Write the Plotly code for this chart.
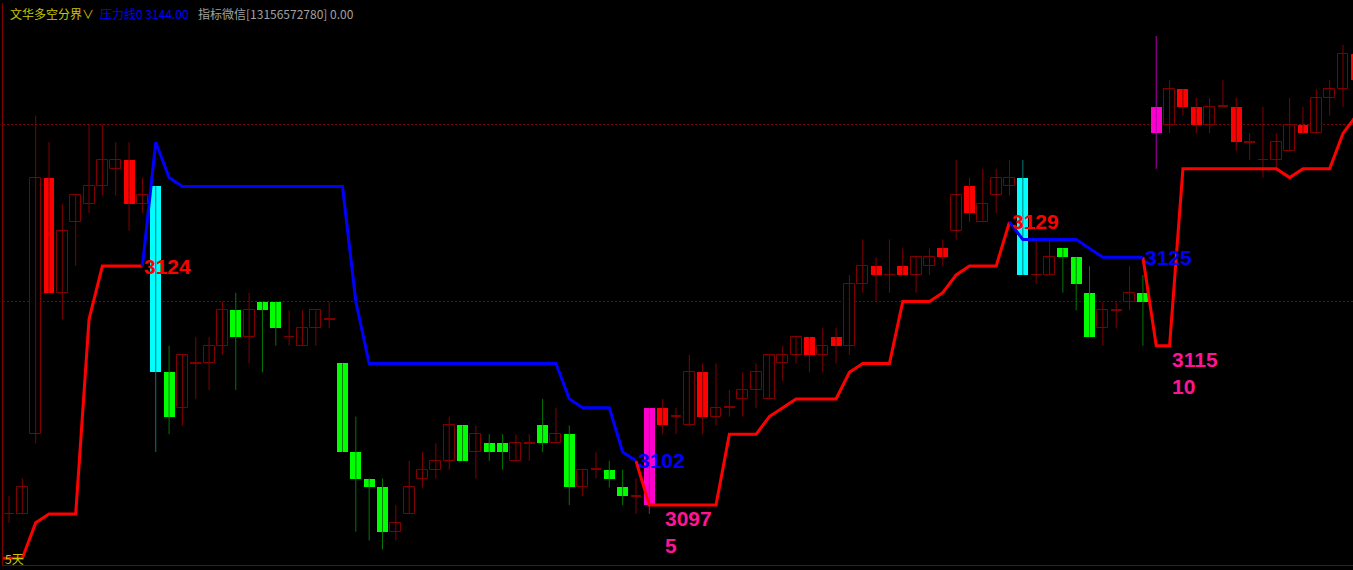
import plotly.graph_objects as go

# candle data, one entry per bar (index 0 .. 101)
candle_open = [3096, 3096, 3105, 3134, 3121, 3129, 3131, 3133, 3135, 3136,
               3131, 3133, 3112, 3108, 3113, 3113, 3115, 3119, 3116, 3120,
               3120, 3116, 3115, 3117, 3118, 3113, 3103, 3100, 3099, 3094,
               3096, 3100, 3101, 3102, 3106, 3103, 3104, 3104, 3102, 3104,
               3106, 3104, 3105, 3099, 3101, 3101, 3099, 3098, 3108, 3108,
               3107, 3106, 3112, 3107, 3108, 3109, 3110, 3109, 3113, 3114,
               3116, 3114, 3116, 3115, 3122, 3124, 3123, 3124, 3123, 3124,
               3126, 3128, 3133, 3129, 3132, 3133, 3134, 3123, 3123, 3126,
               3125, 3121, 3117, 3119, 3120, 3121, 3142, 3140, 3144, 3142,
               3140, 3142, 3142, 3138, 3136, 3136, 3137, 3140, 3139, 3143,
               3144, 3148]
candle_high = [3098, 3100, 3141, 3138, 3131, 3132, 3140, 3140, 3138, 3138,
               3134, 3133, 3115, 3114, 3116, 3116, 3120, 3121, 3121, 3120,
               3120, 3119, 3119, 3119, 3120, 3113, 3107, 3100, 3100, 3097,
               3102, 3103, 3104, 3107, 3106, 3106, 3105, 3105, 3105, 3105,
               3109, 3108, 3106, 3101, 3103, 3102, 3101, 3100, 3108, 3109,
               3108, 3114, 3113, 3113, 3110, 3112, 3113, 3114, 3115, 3116,
               3116, 3117, 3117, 3123, 3127, 3125, 3127, 3126, 3125, 3126,
               3127, 3136, 3134, 3135, 3135, 3136, 3136, 3127, 3127, 3126,
               3125, 3124, 3120, 3120, 3124, 3123, 3150, 3145, 3144, 3143,
               3143, 3145, 3143, 3139, 3142, 3139, 3143, 3142, 3144, 3145,
               3149, 3149]
candle_low = [3095, 3096, 3104, 3121, 3118, 3124, 3130, 3132, 3132, 3128,
              3130, 3103, 3105, 3106, 3109, 3110, 3114, 3110, 3113, 3112,
              3115, 3115, 3115, 3115, 3117, 3103, 3094, 3093, 3092, 3093,
              3096, 3099, 3100, 3101, 3102, 3100, 3102, 3101, 3102, 3102,
              3103, 3104, 3097, 3098, 3100, 3099, 3097, 3096, 3096, 3105,
              3105, 3106, 3105, 3106, 3107, 3107, 3108, 3109, 3111, 3113,
              3112, 3112, 3113, 3114, 3121, 3120, 3121, 3123, 3121, 3123,
              3124, 3127, 3129, 3129, 3130, 3132, 3123, 3122, 3123, 3121,
              3119, 3116, 3115, 3117, 3119, 3115, 3135, 3139, 3141, 3139,
              3139, 3142, 3137, 3136, 3134, 3135, 3137, 3139, 3139, 3141,
              3142, 3144]
candle_close = [3096, 3099, 3134, 3121, 3128, 3132, 3133, 3136, 3136, 3131,
                3132, 3112, 3107, 3114, 3113, 3115, 3119, 3116, 3119, 3119,
                3117, 3116, 3117, 3119, 3118, 3103, 3100, 3099, 3094, 3095,
                3099, 3101, 3102, 3106, 3102, 3105, 3103, 3103, 3104, 3104,
                3104, 3105, 3099, 3101, 3101, 3100, 3098, 3098, 3097, 3106,
                3107, 3112, 3107, 3108, 3108, 3110, 3112, 3114, 3114, 3116,
                3114, 3115, 3115, 3122, 3124, 3123, 3123, 3123, 3125, 3125,
                3125, 3132, 3130, 3131, 3134, 3134, 3123, 3123, 3125, 3125,
                3122, 3116, 3119, 3119, 3121, 3120, 3139, 3144, 3142, 3140,
                3142, 3142, 3138, 3138, 3136, 3138, 3140, 3139, 3143, 3144,
                3148, 3145]
# h = hollow, r = red filled, g = green, c = cyan signal, m = magenta signal
candle_kind = list("hhhrhhhhhrhcghhhhghggh"
                   "hhhgggghhhhhghgghhghgh"
                   "hgghmrhhrhhhhhhhrhrhhr"
                   "hrhhrhrhhhchhggghhhgm"
                   "hrrhhrhhhhrhhhr")

# bull/bear dividing line, index -1 .. 101
line_value = [3091, 3091, 3091, 3095, 3096, 3096, 3096, 3118, 3124, 3124,
              3124, 3124, 3138, 3134, 3133, 3133, 3133, 3133, 3133, 3133,
              3133, 3133, 3133, 3133, 3133, 3133, 3133, 3120, 3113, 3113,
              3113, 3113, 3113, 3113, 3113, 3113, 3113, 3113, 3113, 3113,
              3113, 3113, 3113, 3109, 3108, 3108, 3108, 3103, 3102, 3097,
              3097, 3097, 3097, 3097, 3097, 3105, 3105, 3105, 3107, 3108,
              3109, 3109, 3109, 3109, 3112, 3113, 3113, 3113, 3120, 3120,
              3120, 3121, 3123, 3124, 3124, 3124, 3129, 3127, 3127, 3127,
              3127, 3127, 3126, 3125, 3125, 3125, 3125, 3115, 3115, 3135,
              3135, 3135, 3135, 3135, 3135, 3135, 3135, 3134, 3135, 3135,
              3135, 3139, 3141]
bear_spans = [(10, 47), (75, 85)]

# value labels: (bar index, price, text, colour, anchor)
value_labels = [
    (10, 3124, "3124", "#FF0000", "middle"),
    (47, 3102, "3102", "#0000FF", "middle"),
    (49, 3097, "3097<br>5", "#FF1493", "top"),
    (75, 3129, "3129", "#FF0000", "middle"),
    (85, 3125, "3125", "#0000FF", "middle"),
    (87, 3115, "3115<br>10", "#FF1493", "top"),
]

DARK_RED = "#800000"
styles = {
    "h": dict(fill="#000000", edge=DARK_RED, wick=DARK_RED),
    "d": dict(fill=DARK_RED, edge=DARK_RED, wick=DARK_RED),
    "r": dict(fill="#FF0000", edge="#FF0000", wick=DARK_RED),
    "g": dict(fill="#00FF00", edge="#00FF00", wick="#007800"),
    "c": dict(fill="#00FFFF", edge="#00FFFF", wick="#007878"),
    "m": dict(fill="#FF00CC", edge="#FF00CC", wick="#B000B0"),
}

fig = go.Figure()

n = len(candle_open)
groups = {}
for i in range(n):
    k = candle_kind[i]
    if k == "h" and candle_open[i] == candle_close[i]:
        k = "d"
    groups.setdefault(k, []).append(i)

# wicks
for k, idx in groups.items():
    xs, ys = [], []
    for i in idx:
        xs += [i, i, None]
        ys += [candle_low[i], candle_high[i], None]
    fig.add_trace(go.Scatter(x=xs, y=ys, mode="lines", hoverinfo="skip",
                             line=dict(color=styles[k]["wick"], width=1)))

# bodies
for k, idx in groups.items():
    base = [min(candle_open[i], candle_close[i]) for i in idx]
    size = [max(abs(candle_close[i] - candle_open[i]), 0.1) for i in idx]
    hollow = k == "h"
    fig.add_trace(go.Bar(
        x=idx, y=size, base=base, width=0.82 if k != "d" else 0.8,
        hoverinfo="skip",
        marker=dict(color=styles[k]["fill"],
                    line=dict(color=styles[k]["edge"], width=1 if hollow else 0)),
    ))

# dividing line, red in bull phases and blue in bear phases
line_x = list(range(-1, n))
red_y, blue_y = [], []
for x, v in zip(line_x, line_value):
    in_bear = any(a <= x <= b for a, b in bear_spans)
    edge = any(x in (a, b) for a, b in bear_spans)
    blue_y.append(v if in_bear else None)
    red_y.append(v if (not in_bear or edge) else None)
fig.add_trace(go.Scatter(x=line_x, y=red_y, mode="lines", hoverinfo="skip",
                         line=dict(color="#FF0000", width=3)))
fig.add_trace(go.Scatter(x=line_x, y=blue_y, mode="lines", hoverinfo="skip",
                         line=dict(color="#0000FF", width=3)))

for xi, p, txt, col, anchor in value_labels:
    fig.add_annotation(x=xi, y=p, xref="x", yref="y", text="<b>" + txt + "</b>",
                       showarrow=False, xanchor="left", yanchor=anchor, align="left",
                       font=dict(family="Liberation Sans, Arial", size=21, color=col))

# header
header = [
    (0.0037, "文华多空分界∨", "#C8C800"),
    (0.0704, "压力线0 3144.00", "#0000FF"),
    (0.1430, "指标微信[13156572780] 0.00", "#A0A0A0"),
]
for x, txt, col in header:
    fig.add_annotation(x=x, y=0.982, xref="paper", yref="paper", text=txt,
                       showarrow=False, xanchor="left", yanchor="middle",
                       font=dict(family="Noto Sans CJK SC", size=12, color=col))
fig.add_annotation(x=0.0, y=0.012, xref="paper", yref="paper", text="5天",
                   showarrow=False, xanchor="left", yanchor="middle",
                   font=dict(family="Noto Sans CJK SC", size=12, color="#C8C800"))

fig.update_layout(
    width=1353, height=570,
    margin=dict(l=3, r=0, t=3, b=5),
    paper_bgcolor="#000000", plot_bgcolor="#000000",
    showlegend=False, barmode="overlay", bargap=0,
    xaxis=dict(range=[-0.45, 100.75], showgrid=False, zeroline=False,
               showticklabels=False, ticks="", showline=True,
               linecolor=DARK_RED, linewidth=1),
    yaxis=dict(range=[3090.23, 3153.73], tickvals=[3120, 3140],
               showticklabels=False, ticks="", zeroline=False,
               showgrid=True, gridcolor=DARK_RED, griddash="2px,2px", gridwidth=1,
               showline=True, linecolor=DARK_RED, linewidth=1),
)

# page body has a default 8px margin; drop it so the chart sits at the corner
fig.write_html("out.html", config={"displayModeBar": False},
               post_script="document.body.style.margin='0';")
